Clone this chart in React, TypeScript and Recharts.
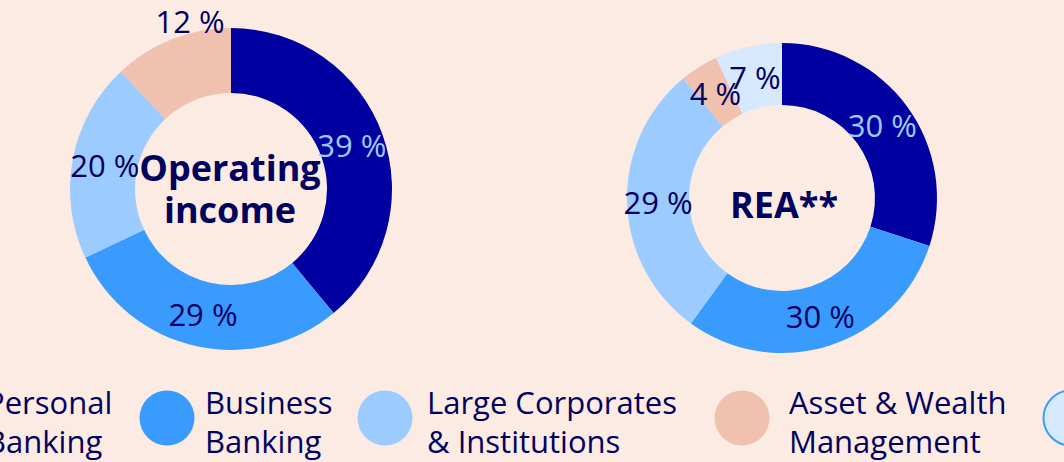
import React from 'react';
import { PieChart, Pie, Cell, Legend } from 'recharts';

// ---- data ----
const segmentNames = [
  'Personal Banking',
  'Business Banking',
  'Large Corporates & Institutions',
  'Asset & Wealth Management',
  'Group functions',
];
const legendLines = [
  ['Personal', 'Banking'],
  ['Business', 'Banking'],
  ['Large Corporates', '& Institutions'],
  ['Asset & Wealth', 'Management'],
  ['Group', 'functions'],
];
const operatingIncomeShares = [39, 29, 20, 12];
const reaShares = [30, 30, 29, 4, 7];
const incomeTitle = ['Operating', 'income'];
const reaTitle = ['REA**'];

// ---- styles ----
const BG = '#fcebe3';
const NAVY = '#00005e';
const sliceColors = ['#0000a0', '#3a9bff', '#9ccbff', '#f0c1ae', '#d6e9ff'];
const labelColors = ['#9ccbff', NAVY, NAVY, NAVY, NAVY];
const FONT = "'Open Sans', sans-serif";
const RAD = Math.PI / 180;

const incomeData = operatingIncomeShares.map((v, i) => ({ name: segmentNames[i], value: v }));
const reaData = reaShares.map((v, i) => ({ name: segmentNames[i], value: v }));

const makeLabel = (chart: string) => (p: any) => {
  const { cx, cy, midAngle, innerRadius, outerRadius, index, value } = p;
  let x: number;
  let y: number;
  if (chart === 'income' && index === 3) {
    // small top slice label sits above the ring
    x = cx - 41;
    y = cy - outerRadius - 7;
  } else {
    const r = (innerRadius + outerRadius) / 2;
    x = cx + r * Math.cos(-midAngle * RAD);
    y = cy + r * Math.sin(-midAngle * RAD);
  }
  return (
    <text
      key={`${chart}-l-${index}`}
      x={x}
      y={y}
      fill={labelColors[index]}
      textAnchor="middle"
      dominantBaseline="central"
      fontFamily={FONT}
      fontSize={31}
      fontWeight={400}
    >
      {`${value} %`}
    </text>
  );
};

// legend layout: circle centres and text offsets
const legendCenters = [-55, 167, 385, 742, 1071];
const legendTextOffsets = [41, 38, 42, 47, 41];

const renderLegend = () => (
  <svg width={1064} height={90} style={{ display: 'block', overflow: 'visible' }}>
    {segmentNames.map((name, i) => (
      <g key={name}>
        <circle
          cx={legendCenters[i]}
          cy={46}
          r={27.5}
          fill={sliceColors[i]}
          stroke={i === 4 ? '#3a9bff' : 'none'}
          strokeWidth={2}
        />
        {legendLines[i].map((line, j) => (
          <text
            key={j}
            x={legendCenters[i] + legendTextOffsets[i]}
            y={42 + j * 39}
            fill={NAVY}
            fontFamily={FONT}
            fontSize={31}
          >
            {line}
          </text>
        ))}
      </g>
    ))}
  </svg>
);

export default function App() {
  return (
    <div
      style={{
        position: 'absolute',
        left: 0,
        top: 0,
        width: 1064,
        height: 462,
        overflow: 'hidden',
        background: BG,
      }}
    >
      <PieChart width={1064} height={462} margin={{ top: 0, right: 0, bottom: 0, left: 0 }}>
        <Pie
          data={incomeData}
          dataKey="value"
          nameKey="name"
          cx={231}
          cy={189}
          innerRadius={96}
          outerRadius={161}
          startAngle={90}
          endAngle={-270}
          stroke="none"
          label={makeLabel('income')}
          labelLine={false}
          isAnimationActive={false}
        >
          {incomeData.map((d, i) => (
            <Cell key={d.name} fill={sliceColors[i]} />
          ))}
        </Pie>
        <Pie
          data={reaData}
          dataKey="value"
          nameKey="name"
          cx={782}
          cy={198}
          innerRadius={93}
          outerRadius={155}
          startAngle={90}
          endAngle={-270}
          stroke="none"
          label={makeLabel('rea')}
          labelLine={false}
          isAnimationActive={false}
        >
          {reaData.map((d, i) => (
            <Cell key={d.name} fill={sliceColors[i]} />
          ))}
        </Pie>
        {incomeTitle.map((t, i) => (
          <text
            key={`it-${i}`}
            x={230}
            y={181 + i * 42}
            textAnchor="middle"
            fill={NAVY}
            fontFamily={FONT}
            fontWeight={700}
            fontSize={36}
          >
            {t}
          </text>
        ))}
        {reaTitle.map((t) => (
          <text
            key={`rt-${t}`}
            x={784}
            y={218}
            textAnchor="middle"
            fill={NAVY}
            fontFamily={FONT}
            fontWeight={700}
            fontSize={36}
          >
            {t}
          </text>
        ))}
        <Legend
          content={renderLegend}
          wrapperStyle={{ position: 'absolute', left: 0, top: 372, width: 1064, height: 90 }}
        />
      </PieChart>
    </div>
  );
}
